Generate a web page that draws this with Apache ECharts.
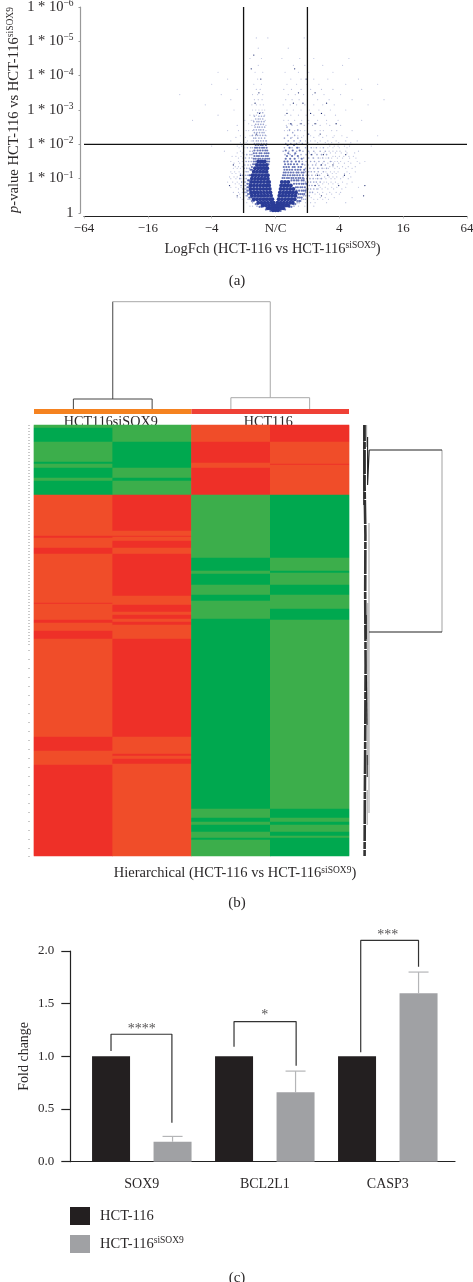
<!DOCTYPE html>
<html>
<head>
<meta charset="utf-8">
<title>HCT-116 vs HCT-116 siSOX9</title>
<script src="https://cdn.jsdelivr.net/npm/echarts@6/dist/echarts.min.js"></script>
<style>
  html, body { margin: 0; padding: 0; background: #fff; }
  #main_chart { width: 473px; height: 1282px; }
</style>
</head>
<body>
<div id="main_chart"></div>
<script>
// (a) volcano: x is the fold change on the log4 axis, y is -log10(p). rows are [y, x, x, ...]
const foldTicks = ['\u221264', '\u221216', '\u22124', 'N/C', '4', '16', '64'];
const pTicks = ['1', '1 * 10{sup|\u22121}', '1 * 10{sup|\u22122}', '1 * 10{sup|\u22123}', '1 * 10{sup|\u22124}', '1 * 10{sup|\u22125}', '1 * 10{sup|\u22126}'];
const foldCuts = [-0.5, 0.5];
const pCut = 2;

const coreRows = [
  [0.08, -.04, 0, .04],
  [0.14, -.12, -.08, -.04, 0, .04, .08, .12],
  [0.22, -.2, -.15, -.1, -.05, -.01, .02, .06, .11, .16, .2],
  [0.3, -.27, -.22, -.17, -.12, -.07, -.03, .03, .08, .13, .18, .23, .27],
  [0.4, -.34, -.29, -.24, -.19, -.14, -.09, -.05, .05, .1, .15, .2, .25, .3],
  [0.5, -.37, -.32, -.27, -.22, -.17, -.12, -.07, .06, .11, .16, .21, .26, .31],
  [0.6, -.38, -.33, -.28, -.23, -.18, -.13, -.08, .07, .12, .17, .22, .27, .32],
  [0.7, -.39, -.34, -.29, -.24, -.19, -.14, -.09, .08, .13, .18, .23, .28],
  [0.8, -.39, -.34, -.29, -.24, -.19, -.14, -.1, .09, .14, .19, .24],
  [0.9, -.38, -.33, -.28, -.23, -.18, -.13, -.1, .1, .15, .2],
  [1.0, -.37, -.32, -.27, -.22, -.17, -.12],
  [1.1, -.36, -.31, -.26, -.21, -.16, -.12],
  [1.2, -.34, -.29, -.24, -.19, -.14],
  [1.3, -.32, -.27, -.22, -.17, -.13],
  [1.4, -.29, -.24, -.19, -.14],
  [1.5, -.27, -.22, -.17]
];

const shoulderRows = [
  [0.06, -.08, .08],
  [0.1, -.15, .15],
  [0.18, -.25, -.22, .22, .25],
  [0.26, -.31, -.28, .28, .31],
  [0.35, -.37, -.34, .34, .37, .39],
  [0.45, -.41, -.38, .35, .38, .41],
  [0.55, -.43, -.4, .36, .39, .42, .45],
  [0.65, -.44, -.41, .33, .37, .41, .44, .47],
  [0.75, -.44, -.42, .32, .35, .39, .42, .46],
  [0.85, -.44, -.41, .29, .33, .37, .41, .44, .48],
  [0.95, -.43, -.41, .25, .29, .33, .36, .41, .44],
  [1.02, .11, .14, .18, .21, .25, .28, .32, .36, .39, .43],
  [1.1, -.41, -.39, .12, .15, .19, .23, .27, .3, .34, .38, .43],
  [1.18, .13, .16, .2, .24, .28, .33, .36, .41, .44],
  [1.26, -.39, -.37, .14, .18, .22, .26, .31, .35, .39, .45],
  [1.34, -.37, .13, .17, .21, .27, .3, .36, .4],
  [1.42, -.35, -.32, -.11, .15, .2, .24, .29, .34, .42],
  [1.5, -.34, -.31, -.13, -.1, .14, .19, .25, .32, .37],
  [1.58, -.34, -.31, -.27, -.24, -.2, -.16, -.13, -.1, .16, .23, .3, .41],
  [1.66, -.33, -.29, -.26, -.22, -.19, -.15, -.12, .18, .26, .35],
  [1.74, -.34, -.3, -.25, -.22, -.17, -.14, -.11, .2, .31],
  [1.82, -.33, -.28, -.24, -.2, -.16, -.13, .16, .27, .38],
  [1.9, -.32, -.29, -.25, -.21, -.18, -.14, .22, .34],
  [1.98, -.31, -.27, -.23, -.2, -.15, .19, .29]
];

const midRows = [
  [0.2, -.29, .29],
  [0.3, -.36, .34, .37],
  [0.4, -.43, -.4, .41, .44, .47],
  [0.5, -.46, -.44, .44, .47, .5, .53],
  [0.6, -.47, -.45, -.49, .47, .5, .54, .58],
  [0.7, -.48, -.46, -.51, .48, .51, .55, .6, .65],
  [0.8, -.47, -.5, -.54, .5, .53, .57, .62, .68],
  [0.9, -.47, -.49, -.53, .47, .51, .55, .6, .64, .7],
  [1.0, -.46, -.5, -.56, .45, .49, .54, .59, .66, .72],
  [1.1, -.44, -.47, -.52, .48, .52, .57, .63, .69],
  [1.2, -.43, -.46, -.5, .47, .52, .56, .61, .67, .75],
  [1.3, -.41, -.45, -.49, .47, .54, .6, .66, .73, .8],
  [1.4, -.39, -.43, -.48, .46, .51, .58, .63, .71, .78],
  [1.5, -.38, -.42, -.46, .42, .48, .55, .61, .68, .76, .86],
  [1.6, -.37, -.41, -.47, .36, .44, .52, .59, .67, .74, .83],
  [1.7, -.37, -.4, -.45, .15, .23, .3, .4, .48, .57, .65, .72, .8],
  [1.8, -.36, -.4, .12, .21, .33, .43, .52, .6, .7, .78],
  [1.9, -.36, -.39, -.44, .14, .26, .37, .47, .56, .64, .75],
  [2.02, -.33, -.29, -.26, -.22, -.18, -.14, .16, .24, .33, .42],
  [2.1, -.35, -.3, -.27, -.23, -.19, -.15, .2, .29, .39],
  [2.18, -.34, -.31, -.26, -.22, -.17, .14, .24, .35],
  [2.26, -.36, -.31, -.28, -.24, -.2, -.16, .19, .3],
  [2.34, -.33, -.29, -.25, -.21, -.18, .27],
  [2.42, -.34, -.3, -.26, -.23, -.19, .22, .35],
  [2.5, -.32, -.28, -.25, -.21, -.17, .18],
  [2.58, -.31, -.27, -.23, -.19, .25],
  [2.66, -.34, -.29, -.26, -.22, -.18],
  [2.74, -.31, -.27, -.24, -.2],
  [2.82, -.33, -.26, -.22, -.18],
  [2.92, -.28, -.24, -.2]
];

const faintRows = [
  [0.2, -.36, -.4, .36, .46, .6],
  [0.3, -.45, -.5, .47, .55, .62, .8, 1.1],
  [0.45, -.55, -.6, .56, .7, .78, .92, 1.2],
  [0.6, -.58, -.52, -.66, .66, .74, .85, .95, 1.02],
  [0.75, -.62, -.54, -.7, .7, .78, .88, .96, 1.1, 1.3],
  [0.9, -.67, -.6, -.75, .76, .8, .87, .94, 1.05, 1.2],
  [1.05, -.6, -.65, -.72, .77, .84, .9, .96, 1.06, 1.18],
  [1.2, -.64, -.57, -.7, .79, .86, .92, .98, 1.12, 1.25],
  [1.35, -.58, -.52, -.63, .85, .9, .97, 1.05, 1.14, 1.25],
  [1.5, -.7, -.52, -.58, .88, .93, .97, 1.02, 1.14, 1.28, 1.4],
  [1.65, -.62, -.54, -.68, .9, .94, 1.0, 1.07, 1.15, 1.22],
  [1.8, -.8, -.55, -.5, .84, .9, .96, 1.01, 1.1, 1.3],
  [1.95, -1, -.6, -.53, .85, .92, .98, 1.08, 1.16, 1.5],
  [2.1, -.7, -.44, -.38, -.14, .47, .55, .62, .7, .82, .95, 1.1, 1.28],
  [2.25, -.55, -.4, -.37, -.14, .35, .44, .55, .68, .8, .92, 1.04, 1.6],
  [2.4, -.75, -.42, -.36, -.15, .14, .22, .3, .39, .5, .62, .75, .88, 1.2],
  [2.55, -.6, -.37, -.33, -.15, .17, .26, .34, .45, .58, .7, .85, 1.02],
  [2.7, -1.3, -.48, -.38, -.35, -.16, .13, .2, .3, .41, .52, .66, .8, .98, 1.35],
  [2.85, -.9, -.4, -.34, -.3, -.17, .15, .24, .36, .48, .6, .77, .94],
  [3.0, -.65, -.36, -.31, -.26, -.21, -.17, .18, .28, .4, .53, .68, .86, 1.1],
  [3.15, -1.1, -.37, -.3, -.24, -.19, .12, .23, .33, .46, .6, .74, .92, 1.45],
  [3.3, -.7, -.33, -.27, -.21, .16, .26, .37, .5, .66, .84, 1.2, 1.7],
  [3.45, -1.5, -.85, -.36, -.28, -.2, .2, .31, .44, .58, .76, 1.02],
  [3.6, -.6, -.3, -.24, .13, .25, .4, .55, .72, .9, 1.35],
  [3.75, -1, -.34, -.22, .18, .33, .49, .68, 1.1, 1.6],
  [3.9, -.75, -.28, .24, .4, .6, .82, 1.3],
  [4.1, -.9, -.32, -.2, .15, .36, .52, .9],
  [4.3, -.5, -.27, .28, .46, .74, 1.05],
  [4.5, -.4, -.22, .1, .38, .6, 1.15],
  [4.8, -.27, .2, .5],
  [5.1, -.3, -.12, .45]
];

// lighter cloud right of the cut, and the fringe left of it
const cloudRows = [
  [0.4, -.52, .6, .66, .74, .83],
  [0.55, -.56, .62, .69, .8, .88, 1.0],
  [0.7, -.58, .67, .73, .82, .91, 1.04],
  [0.85, -.57, -.63, .66, .74, .83, .9, .98, 1.12],
  [1.0, -.54, -.62, -.7, .63, .7, .79, .87, .93, 1.02, 1.14],
  [1.15, -.55, -.62, -.68, .65, .72, .81, .89, .95, 1.08, 1.16],
  [1.3, -.55, -.6, -.66, .68, .76, .83, .93, 1.0, 1.1, 1.2],
  [1.45, -.5, -.56, -.65, .64, .74, .82, .91, .99, 1.08, 1.18, 1.32],
  [1.6, -.51, -.58, .6, .7, .79, .88, .97, 1.05, 1.16, 1.26],
  [1.75, -.52, -.6, .53, .62, .76, .86, .94, 1.03, 1.12, 1.24],
  [1.9, -.48, -.57, .5, .6, .7, .82, .9, 1.0, 1.12],
  [2.05, -.46, -.55, .37, .51, .66, .78, .88, .99, 1.18],
  [2.2, -.47, -.62, .26, .41, .6, .74, .9, 1.12],
  [2.4, -.46, -.58, .19, .35, .46, .7, .96],
  [2.6, -.42, .21, .38, .52, .64, .8]
];

const darkRows = [
  [0.5, -.6, .72, 1.38],
  [0.8, -.72, .62, .99, 1.4],
  [1.1, -.55, .66, .82, 1.08],
  [1.4, -.66, .72, .9],
  [1.7, -.5, .56, .75, 1.1],
  [2.0, -.44, .3, .48, .83],
  [2.3, -.3, .52, .7],
  [2.6, .24, .4, .62, .95],
  [2.9, -.25, .18, .55, .72],
  [3.2, -.32, .28, .43, .8],
  [3.5, -.26, .36, .62],
  [3.9, -.23, .48],
  [4.2, -.38, .3],
  [4.6, -.34]
];

// (b) heatmap: one run-length list per column, [rows, level]
const heatColumns = ['rep1', 'rep2', 'rep3', 'rep4'];
const heatLevels = ['#00a94f', '#3cae4b', '#f04e2a', '#ee3129'];
const heatRowCount = 431;
const heatBands = [
  [[3, 1], [14, 0], [20, 1], [2, 0], [4, 1], [10, 0], [3, 1], [14, 0], [41, 2], [2, 3], [10, 2], [6, 3], [49, 2], [1, 3], [16, 2], [3, 3], [8, 2], [8, 3], [98, 2], [14, 3], [14, 2], [91, 3]],
  [[17, 1], [26, 0], [10, 1], [3, 0], [14, 1], [36, 3], [5, 2], [1, 3], [4, 2], [7, 3], [6, 2], [42, 3], [9, 2], [7, 3], [3, 2], [4, 3], [3, 2], [3, 3], [14, 2], [98, 3], [17, 2], [2, 3], [3, 2], [5, 3], [92, 2]],
  [[17, 2], [21, 3], [5, 2], [27, 3], [63, 1], [13, 0], [3, 1], [11, 0], [10, 1], [6, 0], [18, 1], [190, 0], [9, 1], [4, 0], [3, 1], [7, 0], [6, 1], [2, 0], [16, 1]],
  [[17, 3], [22, 2], [1, 3], [30, 2], [63, 0], [13, 1], [2, 0], [12, 1], [10, 0], [14, 1], [11, 0], [189, 1], [9, 0], [4, 1], [3, 0], [7, 1], [4, 0], [2, 1], [18, 0]]
];
const groupNames = ['HCT116siSOX9', 'HCT116'];
const groupColors = ['#f58220', '#ef4136'];

// dendrograms, x or y in heatmap columns/rows, other value is merge height
const topTreeDark = [[[1.5, 10], [0.5, 10], [0.5, 0]], [[1.5, 10], [1.5, 0]], [[1, 10], [1, 107.3]]];
const topTreeLight = [[[1, 107.3], [3, 107.3], [3, 11.3]], [[2.5, 0], [2.5, 11.3], [3.5, 11.3], [3.5, 0]]];
const sideSpine = [[1.6, 0], [1.6, 60], [2.4, 110], [2.2, 170], [2.6, 240], [2.2, 320], [1.8, 380], [1.6, 431]];
const sideTreeDark = [
  [[0.8, 0], [0.8, 60], [0.8, 80]],
  [[4.6, 12], [4.6, 60], [6.2, 60], [6.2, 25]],
  [[6.2, 25], [79, 25]],
  [[6, 207], [79, 207]],
  [[3.2, 190], [3.2, 214]],
  [[4.2, 330], [4.2, 352]],
  [[3.4, 250], [4, 250], [4, 300]]
];
const sideTreeLight = [[[6, 98], [6, 388]], [[79, 25], [79, 207]], [[3.6, 0], [3.6, 22]], [[4.8, 178], [4.8, 340]], [[4.2, 365], [4.2, 400]]];

// (c) bars
const genes = ['SOX9', 'BCL2L1', 'CASP3'];
const foldChange116 = [1, 1, 1];
const foldChangeSi = [0.19, 0.66, 1.6];
const errorTopSi = [0.24, 0.86, 1.8];
const brackets = [
  { stars: '****', at: 1.5, y: 1.255, line: [[1, 1.05], [1, 1.21], [1.99, 1.21], [1.99, 0.37]] },
  { stars: '*', at: 3.5, y: 1.385, line: [[3, 1.09], [3, 1.33], [4.01, 1.33], [4.01, 0.91]] },
  { stars: '***', at: 5.5, y: 2.145, line: [[5.06, 1.04], [5.06, 2.1], [6, 2.1], [6, 1.85]] }
];

const serif = '"Liberation Serif", serif';
const ink = '#2b2829';
const sup = { fontSize: 9.5, fontFamily: serif, color: ink, padding: [0, 0, 7, 0] };
const italic = { fontStyle: 'italic', fontFamily: serif, fontSize: 14.6, color: ink };

function flatten(rows) {
  const out = [];
  rows.forEach(function (row) {
    for (let i = 1; i < row.length; i++) {
      out.push([row[i], row[0]]);
    }
  });
  return out;
}

function expandBands() {
  const out = [];
  heatBands.forEach(function (bands, col) {
    let row = 0;
    bands.forEach(function (band) {
      for (let i = 0; i < band[0]; i++) {
        out.push([col, row, band[1]]);
        row++;
      }
    });
  });
  return out;
}

function dots(name, rows, size, color, opacity) {
  return {
    name: name, type: 'scatter', xAxisIndex: 0, yAxisIndex: 0, symbolSize: size, silent: true,
    data: flatten(rows), itemStyle: { color: color, opacity: opacity }
  };
}

function rule(data, xAxisIndex, yAxisIndex, color, width, dash) {
  return {
    type: 'line', xAxisIndex: xAxisIndex, yAxisIndex: yAxisIndex, data: data, symbol: 'none',
    clip: false, silent: true, lineStyle: { color: color, width: width, type: dash || 'solid' }, z: 5
  };
}

const rowLabels = [];
for (let i = 0; i < heatRowCount; i++) rowLabels.push(String(i));

const series = [
  dots('faint', faintRows, 1.2, '#5563ad', 0.4),
  dots('cloud', cloudRows, 1.2, '#6a76b8', 0.45),
  dots('mid', midRows, 1.6, '#3e4fa3', 0.5),
  dots('shoulder', shoulderRows, 2.2, '#33459e', 0.75),
  dots('dark', darkRows, 1.3, '#1c2a6e', 1),
  dots('core', coreRows, 4, '#2a3c97', 1),
  rule([[-3, pCut], [3, pCut]], 0, 0, '#111', 1.3),
  rule([[foldCuts[0], 0], [foldCuts[0], 6]], 0, 0, '#111', 1.3),
  rule([[foldCuts[1], 0], [foldCuts[1], 6]], 0, 0, '#111', 1.3)
];

topTreeDark.forEach(function (d) { series.push(rule(d, 1, 1, '#444', 1)); });
topTreeLight.forEach(function (d) { series.push(rule(d, 1, 1, '#a8a8a8', 1)); });

series.push({
  type: 'heatmap', xAxisIndex: 2, yAxisIndex: 2, data: expandBands(), silent: true, z: 3,
  progressive: 0, emphasis: { disabled: true }
});
const heatSeriesIndex = series.length - 1;

series.push({
  type: 'bar', xAxisIndex: 3, yAxisIndex: 3, barWidth: '100%', silent: true,
  data: [1, 1].map(function (v, i) { return { value: v, itemStyle: { color: groupColors[i] } }; })
});

series.push(rule(sideSpine, 4, 4, '#333', 2.6, [16, 1, 7, 1, 24, 1]));
sideTreeLight.forEach(function (d) { series.push(rule(d, 4, 4, '#a9a9a9', 1.1)); });
sideTreeDark.forEach(function (d) { series.push(rule(d, 4, 4, '#222', 1.1)); });

const barCats = [];
const bars116 = [];
const barsSi = [];
genes.forEach(function (g, i) {
  barCats.push(g + ' 116', g + ' si');
  bars116.push(foldChange116[i], null);
  barsSi.push(null, foldChangeSi[i]);
});

series.push({
  name: 'HCT-116', type: 'bar', xAxisIndex: 6, yAxisIndex: 6, data: bars116, barWidth: 38, barGap: '-100%',
  silent: true, itemStyle: { color: '#231f20' }
});
series.push({
  name: 'HCT-116siSOX9', type: 'bar', xAxisIndex: 6, yAxisIndex: 6, data: barsSi, barWidth: 38, barGap: '-100%',
  silent: true, itemStyle: { color: '#a0a1a4' }
});

series.push({
  type: 'custom', xAxisIndex: 6, yAxisIndex: 6, silent: true, z: 1,
  data: genes.map(function (g, i) { return [i * 2 + 1, foldChangeSi[i], errorTopSi[i]]; }),
  encode: { x: 0, y: [1, 2] },
  renderItem: function (params, api) {
    const low = api.coord([api.value(0), api.value(1)]);
    const high = api.coord([api.value(0), api.value(2)]);
    const style = { stroke: '#b4b5b7', lineWidth: 1.2, fill: null };
    return {
      type: 'group',
      children: [
        { type: 'line', shape: { x1: low[0], y1: low[1], x2: high[0], y2: high[1] }, style: style },
        { type: 'line', shape: { x1: high[0] - 10, y1: high[1], x2: high[0] + 10, y2: high[1] }, style: style }
      ]
    };
  }
});

brackets.forEach(function (b) {
  series.push(rule(b.line, 5, 5, '#333', 1.2));
  series.push({
    type: 'scatter', xAxisIndex: 5, yAxisIndex: 5, symbolSize: 0, silent: true, clip: false,
    data: [[b.at, b.y]],
    label: { show: true, position: 'inside', formatter: b.stars, fontFamily: serif, fontSize: 14, color: ink }
  });
});

const chart = echarts.init(document.getElementById('main_chart'));
chart.setOption({
  animation: false,
  backgroundColor: '#fff',
  textStyle: { fontFamily: serif, color: ink },
  title: [
    { text: '(a)', left: 232, top: 269, textAlign: 'center', textStyle: { fontFamily: serif, fontWeight: 'normal', fontSize: 15, color: ink } },
    { text: '(b)', left: 232, top: 891, textAlign: 'center', textStyle: { fontFamily: serif, fontWeight: 'normal', fontSize: 15, color: ink } },
    { text: '(c)', left: 232, top: 1266, textAlign: 'center', textStyle: { fontFamily: serif, fontWeight: 'normal', fontSize: 15, color: ink } },
    {
      text: 'Hierarchical (HCT-116 vs HCT-116{sup|siSOX9})', left: 230, top: 860, textAlign: 'center',
      textStyle: { fontFamily: serif, fontWeight: 'normal', fontSize: 14.5, color: ink, rich: { sup: sup } }
    }
  ],
  legend: {
    data: ['HCT-116', 'HCT-116siSOX9'], left: 70, top: 1207, padding: 0, orient: 'vertical', itemWidth: 20, itemHeight: 18, itemGap: 10,
    icon: 'rect', selectedMode: false,
    formatter: function (name) { return name === 'HCT-116' ? name : 'HCT-116{sup|siSOX9}'; },
    textStyle: { fontFamily: serif, fontSize: 14.5, color: ink, padding: [0, 0, 0, 5], rich: { sup: sup } }
  },
  visualMap: {
    show: false, type: 'piecewise', seriesIndex: heatSeriesIndex, dimension: 2,
    pieces: heatLevels.map(function (c, i) { return { value: i, color: c }; })
  },
  grid: [
    { left: 84, width: 383, top: 7, height: 206, outerBoundsMode: 'none' },
    { left: 34, width: 315, top: 301.5, height: 107.5, outerBoundsMode: 'none' },
    { left: 34, width: 315, top: 425, height: heatRowCount, outerBoundsMode: 'none' },
    { left: 34, width: 315, top: 409, height: 5, outerBoundsMode: 'none' },
    { left: 363, width: 80, top: 425, height: heatRowCount, outerBoundsMode: 'none' },
    { left: 70.3, width: 384.7, top: 951, height: 210.7, outerBoundsMode: 'none' },
    { left: 80.3, width: 369, top: 951, height: 210.7, outerBoundsMode: 'none' }
  ],
  xAxis: [
    {
      gridIndex: 0, type: 'value', min: -3, max: 3, interval: 1, offset: 3.5, splitLine: { show: false },
      axisLine: { onZero: false, lineStyle: { color: '#222', width: 1.2 } },
      axisTick: { length: 2, lineStyle: { color: '#ccc' } },
      axisLabel: {
        margin: 6, fontSize: 13, fontFamily: serif, color: ink, showMinLabel: true, showMaxLabel: true,
        formatter: function (v) { return foldTicks[v + 3]; }
      },
      name: 'LogFch (HCT-116 vs HCT-116{sup|siSOX9})', nameLocation: 'middle', nameGap: 24,
      nameTextStyle: { fontFamily: serif, fontSize: 14.5, color: ink, rich: { sup: sup }, padding: [0, 0, 0, -6] }
    },
    { gridIndex: 1, type: 'value', min: 0, max: 4, show: false },
    { gridIndex: 2, type: 'category', data: heatColumns, show: false },
    {
      gridIndex: 3, type: 'category', data: groupNames,
      axisLine: { show: false }, axisTick: { show: false },
      axisLabel: { margin: 0, fontSize: 14.2, fontFamily: serif, color: ink, padding: [1, 4, 0, 0] }
    },
    { gridIndex: 4, type: 'value', min: 0, max: 80, show: false },
    {
      gridIndex: 5, type: 'value', min: 0.338, max: 6.593, splitLine: { show: false },
      axisLine: { onZero: false, lineStyle: { color: '#222', width: 1.2 } }, axisTick: { show: false }, axisLabel: { show: false }
    },
    {
      gridIndex: 6, type: 'category', data: barCats,
      axisLine: { show: false },
      axisTick: { alignWithLabel: true, length: 8, lineStyle: { color: '#222', width: 1.2 } },
      axisLabel: { show: false }
    },
    {
      gridIndex: 6, type: 'category', data: genes, position: 'bottom',
      axisLine: { show: false }, axisTick: { show: false },
      axisLabel: { margin: 16, fontSize: 14, fontFamily: serif, color: ink }
    }
  ],
  yAxis: [
    {
      gridIndex: 0, type: 'value', min: 0, max: 6, interval: 1, offset: 3.5, splitLine: { show: false },
      axisLine: { show: true, onZero: false, lineStyle: { color: '#999', width: 1.2 } },
      axisTick: { show: true, length: 2, lineStyle: { color: '#999' } },
      axisLabel: {
        margin: 7, fontSize: 14.5, fontFamily: serif, color: ink, rich: { sup: sup },
        formatter: function (v) { return pTicks[v]; }
      },
      name: '{i|p}-value HCT-116 vs HCT-116{sup|siSOX9}', nameLocation: 'middle', nameGap: 58, nameMoveOverlap: false,
      nameTextStyle: { fontFamily: serif, fontSize: 14.6, color: ink, rich: { sup: sup, i: italic } }
    },
    { gridIndex: 1, type: 'value', min: 0, max: 107.5, show: false },
    {
      gridIndex: 2, type: 'category', data: rowLabels, inverse: true, offset: 4,
      axisLine: { show: false },
      axisTick: {
        show: true, length: 2, lineStyle: { color: '#c9c9c9', width: 1 },
        interval: function (i) { return i < 220 ? i % 3 === 0 : i % 9 === 0; }
      },
      axisLabel: { show: false }
    },
    { gridIndex: 3, type: 'value', min: 0, max: 1, show: false },
    { gridIndex: 4, type: 'value', min: 0, max: heatRowCount, inverse: true, show: false },
    {
      gridIndex: 5, type: 'value', min: 0, max: 2, interval: 0.5, splitLine: { show: false },
      axisLine: { show: true, onZero: false, lineStyle: { color: '#222', width: 1.2 } },
      axisTick: { show: true, length: 9, lineStyle: { color: '#222', width: 1.2 } },
      axisLabel: { margin: 16, fontSize: 13, fontFamily: serif, color: ink, formatter: function (v) { return v.toFixed(1); } },
      name: 'Fold change', nameLocation: 'middle', nameGap: 39, nameMoveOverlap: false,
      nameTextStyle: { fontFamily: serif, fontSize: 14, color: ink }
    },
    { gridIndex: 6, type: 'value', min: 0, max: 2, show: false }
  ],
  series: series
});
</script>
</body>
</html>
